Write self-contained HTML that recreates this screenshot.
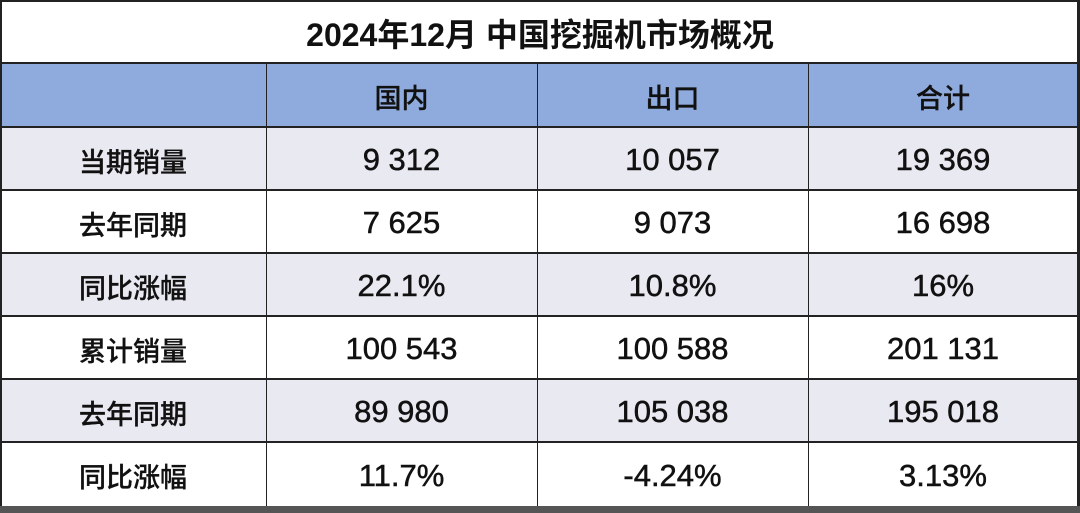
<!DOCTYPE html>
<html><head><meta charset="utf-8"><style>
body{margin:0;width:1080px;height:513px;background:#fff;overflow:hidden;font-family:"Liberation Sans","Noto Sans CJK SC",sans-serif;position:relative}
.t{position:absolute;left:0;top:0;width:1080px;height:66px;display:flex;align-items:center;justify-content:center;font-size:32px;font-weight:bold;color:#111}
.c{position:absolute;display:flex;align-items:center;justify-content:center;font-size:31px;color:#111;box-sizing:border-box;padding-top:3px;-webkit-text-stroke:0.5px #111}
.k{font-size:27px;font-family:"Noto Sans CJK SC",sans-serif;font-weight:500;-webkit-text-stroke:0.3px #111}
.h{position:absolute;background:#222}
</style></head><body>
<div class="t">2024年12月 中国挖掘机市场概况</div>
<div style="position:absolute;left:0;top:63px;width:1080px;height:64px;background:#8faadc"></div>
<div style="position:absolute;left:0;top:127px;width:1080px;height:63px;background:#e9e9f2"></div>
<div style="position:absolute;left:0;top:253px;width:1080px;height:63px;background:#e9e9f2"></div>
<div style="position:absolute;left:0;top:379px;width:1080px;height:63px;background:#e9e9f2"></div>
<div style="position:absolute;left:0;top:506px;width:1080px;height:7px;background:#555"></div>
<div class="h" style="left:0;top:0;width:2px;height:506px"></div>
<div class="h" style="left:1077px;top:0;width:3px;height:506px"></div>
<div class="h" style="left:0;top:0;width:1080px;height:2px"></div>
<div class="h" style="left:0;top:62px;width:1080px;height:2px"></div>
<div class="h" style="left:0;top:126px;width:1080px;height:2px"></div>
<div class="h" style="left:0;top:189px;width:1080px;height:2px"></div>
<div class="h" style="left:0;top:252px;width:1080px;height:2px"></div>
<div class="h" style="left:0;top:315px;width:1080px;height:2px"></div>
<div class="h" style="left:0;top:378px;width:1080px;height:2px"></div>
<div class="h" style="left:0;top:441px;width:1080px;height:2px"></div>
<div class="h" style="left:266px;top:63px;width:1px;height:443px"></div>
<div class="h" style="left:537px;top:63px;width:1px;height:443px"></div>
<div class="h" style="left:808px;top:63px;width:1px;height:443px"></div>
<div class="c k" style="left:266px;top:63px;width:271px;height:64px">国内</div>
<div class="c k" style="left:537px;top:63px;width:271px;height:64px">出口</div>
<div class="c k" style="left:808px;top:63px;width:270px;height:64px">合计</div>
<div class="c k" style="left:0;top:127px;width:266px;height:63px">当期销量</div>
<div class="c" style="left:266px;top:127px;width:271px;height:63px">9 312</div>
<div class="c" style="left:537px;top:127px;width:271px;height:63px">10 057</div>
<div class="c" style="left:808px;top:127px;width:270px;height:63px">19 369</div>
<div class="c k" style="left:0;top:190px;width:266px;height:63px">去年同期</div>
<div class="c" style="left:266px;top:190px;width:271px;height:63px">7 625</div>
<div class="c" style="left:537px;top:190px;width:271px;height:63px">9 073</div>
<div class="c" style="left:808px;top:190px;width:270px;height:63px">16 698</div>
<div class="c k" style="left:0;top:253px;width:266px;height:63px">同比涨幅</div>
<div class="c" style="left:266px;top:253px;width:271px;height:63px">22.1%</div>
<div class="c" style="left:537px;top:253px;width:271px;height:63px">10.8%</div>
<div class="c" style="left:808px;top:253px;width:270px;height:63px">16%</div>
<div class="c k" style="left:0;top:316px;width:266px;height:63px">累计销量</div>
<div class="c" style="left:266px;top:316px;width:271px;height:63px">100 543</div>
<div class="c" style="left:537px;top:316px;width:271px;height:63px">100 588</div>
<div class="c" style="left:808px;top:316px;width:270px;height:63px">201 131</div>
<div class="c k" style="left:0;top:379px;width:266px;height:63px">去年同期</div>
<div class="c" style="left:266px;top:379px;width:271px;height:63px">89 980</div>
<div class="c" style="left:537px;top:379px;width:271px;height:63px">105 038</div>
<div class="c" style="left:808px;top:379px;width:270px;height:63px">195 018</div>
<div class="c k" style="left:0;top:442px;width:266px;height:64px">同比涨幅</div>
<div class="c" style="left:266px;top:442px;width:271px;height:64px">11.7%</div>
<div class="c" style="left:537px;top:442px;width:271px;height:64px">-4.24%</div>
<div class="c" style="left:808px;top:442px;width:270px;height:64px">3.13%</div>
</body></html>
